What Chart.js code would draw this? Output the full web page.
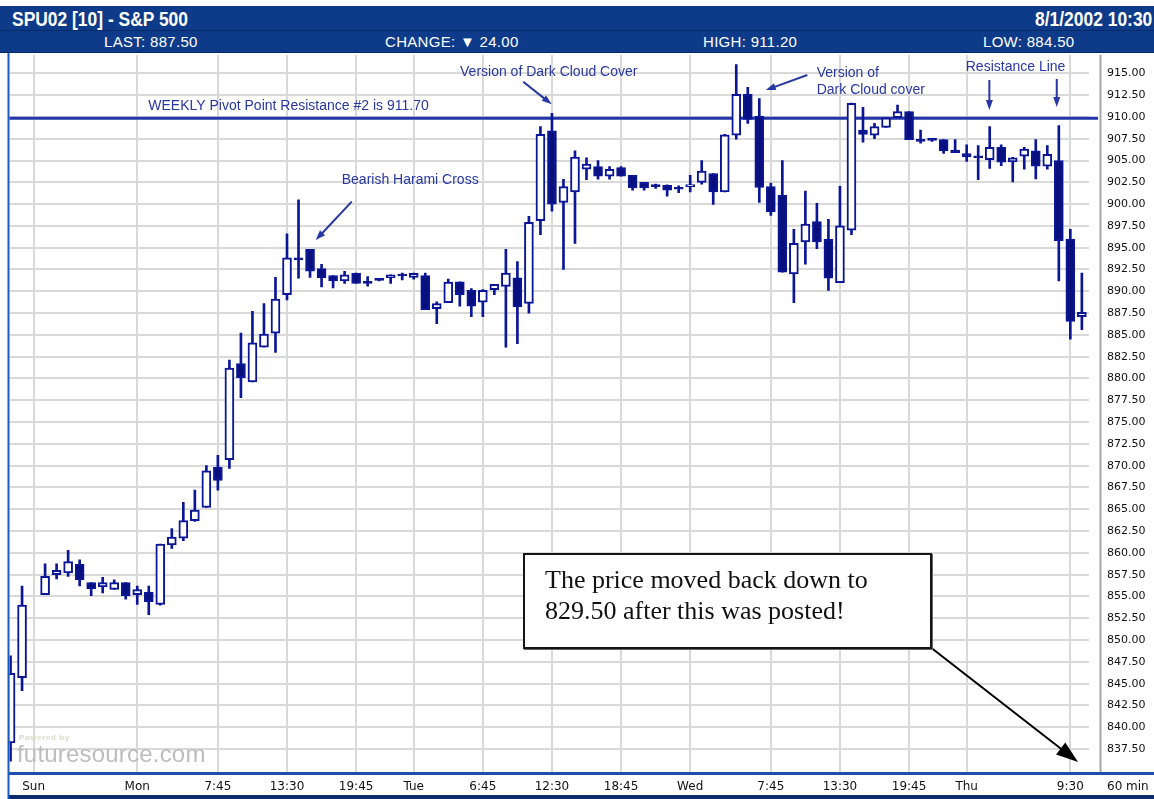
<!DOCTYPE html>
<html><head><meta charset="utf-8">
<script src="https://cdn.jsdelivr.net/npm/chart.js@4.4.1/dist/chart.umd.min.js"></script>
<style>
html,body{margin:0;padding:0;background:#fff;width:1154px;height:799px;overflow:hidden}
#wrap{position:relative;width:1154px;height:799px}
#c{position:absolute;left:0;top:0}
#hdr{position:absolute;left:0;top:6px;width:1154px;height:47px;background:#0d3b8a;color:#fff;font-family:"Liberation Sans Narrow","Arial Narrow","Liberation Sans",sans-serif}
#row1{position:absolute;left:0;top:0;width:1154px;height:24px;border-bottom:1px solid #062a63}
#title{position:absolute;left:12px;top:0;font-weight:bold;font-size:21px;line-height:25px;transform:scaleX(0.83);transform-origin:0 0;white-space:nowrap}
#date{position:absolute;right:2px;top:0;font-weight:bold;font-size:21px;line-height:25px;transform:scaleX(0.83);transform-origin:100% 0;white-space:nowrap}
#row2{position:absolute;left:0;top:25px;width:1154px;height:21px;border-bottom:1px solid #062a63}
#row2 span{position:absolute;top:0;font-size:15px;line-height:21px;letter-spacing:0.3px;white-space:nowrap}
#box{position:absolute;left:523px;top:553px;width:409px;height:96px;box-sizing:border-box;border:2px solid #151515;box-shadow:1px 1px 0 #666;background:#fff;padding:9px 0 0 20px;font-family:"Liberation Serif","Times New Roman",serif;font-size:26px;line-height:31px;color:#111}
#unit{position:absolute;left:1107px;top:779px;font-family:"DejaVu Sans",sans-serif;font-size:12px;color:#111}
#wm1{position:absolute;left:19px;top:733px;font-family:"Liberation Sans",sans-serif;font-size:8px;color:#d6e0c8;font-weight:bold;letter-spacing:0.6px}
#wm2{position:absolute;left:17px;top:740px;font-family:"Liberation Sans",sans-serif;font-size:24px;color:#bdbdbd;letter-spacing:0.2px}
</style></head>
<body><div id="wrap">
<canvas id="c" width="1154" height="799"></canvas>
<div id="hdr">
 <div id="row1"><span id="title">SPU02 [10] - S&amp;P 500</span><span id="date">8/1/2002 10:30</span></div>
 <div id="row2"><span style="left:104px">LAST: 887.50</span><span style="left:385px">CHANGE: ▼ 24.00</span><span style="left:703px">HIGH: 911.20</span><span style="left:983px">LOW: 884.50</span></div>
</div>
<div id="wm1">Powered by</div>
<div id="wm2">futuresource.com</div>
<div id="box">The price moved back down to<br>829.50 after this was posted!</div>
<div id="unit">60 min</div>
</div>
<script>
// ---- data (hourly bars, slot index = position in time) ----
const opens  = [838.2,845.7,null,855.2,857.5,857.7,858.7,856.6,856.1,855.8,856.6,855.2,855.5,854.1,860.9,861.7,863.7,865.2,869.8,870.7,
  881.7,879.6,883.6,885.2,889.6,893.7,894.8,892.6,891.8,891.2,892.1,891.1,891.4,891.55,891.85,891.6,891.8,888.0,888.7,891.1,
  890.1,888.75,890.2,890.55,891.55,888.6,898.1,908.4,900.2,901.4,904.0,904.3,903.2,904.2,903.3,902.5,902.15,902.15,901.9,902.0,
  902.5,903.5,901.4,907.9,912.6,910.1,902.0,901.0,892.0,895.65,898.0,895.95,891.0,897.0,908.5,907.9,908.8,909.9,910.6,907.4,
  907.3,907.4,906.2,905.8,905.4,905.1,906.5,904.85,905.5,906.1,904.35,905.0,896.0,887.1];
const highs  = [848.2,856.2,null,858.75,858.75,860.3,859.2,856.6,857.2,856.9,856.6,856.2,856.2,861.0,862.8,865.8,867.2,870.0,871.2,882.1,
  885.2,887.7,888.6,891.6,896.6,900.5,894.8,893.1,891.8,892.3,892.1,891.7,891.45,891.9,892.1,892.1,892.1,888.8,891.4,891.1,
  890.3,890.2,890.8,894.8,893.4,898.6,908.9,910.4,902.85,906.1,905.3,905.0,904.3,904.3,903.3,902.5,902.3,902.2,902.1,903.3,
  905.0,903.5,908.0,916.0,913.4,912.1,902.4,905.0,897.1,901.5,900.1,898.25,902.05,911.6,911.1,909.25,909.9,911.35,910.6,908.5,
  907.4,907.4,907.4,906.8,906.7,908.9,906.8,905.35,906.5,907.4,906.7,909.0,897.1,892.1];
const lows   = [836.1,844.2,null,855.2,857.0,857.3,856.2,855.1,855.4,855.8,854.7,854.1,852.9,854.0,860.5,861.4,863.6,865.2,867.2,869.7,
  877.8,879.6,883.6,883.0,889.0,891.5,891.6,890.5,890.4,890.9,890.9,890.6,891.2,890.9,891.3,891.4,887.9,886.3,888.7,888.3,
  887.1,887.1,889.6,883.6,884.0,887.5,896.5,899.2,892.5,895.5,902.8,902.85,902.85,903.2,901.6,901.6,901.8,900.9,901.3,901.4,
  902.3,899.95,901.4,907.45,909.25,900.2,898.7,892.2,888.7,893.1,894.9,890.1,891.0,896.5,907.1,907.5,908.8,909.9,907.4,907.0,
  907.2,905.8,905.9,904.9,902.8,904.1,904.4,902.55,904.0,902.9,904.0,891.2,884.5,885.6];
const closes = [846.2,854.0,null,857.3,858.0,859.0,856.9,855.9,856.6,856.6,855.1,855.8,854.4,861.0,861.8,863.7,864.9,869.4,868.3,881.2,
  880.1,884.1,885.1,889.1,893.85,893.6,892.3,891.55,891.2,891.9,890.9,890.9,891.25,891.9,891.75,892.05,887.9,888.6,891.05,889.6,
  888.3,890.1,890.8,892.1,888.2,897.9,908.0,900.0,902.0,905.4,904.6,903.2,904.0,903.2,901.85,901.85,902.0,901.6,901.7,902.2,
  903.8,901.4,907.95,912.6,909.7,901.9,899.1,892.2,895.5,897.7,895.65,891.5,897.5,911.55,908.0,908.9,909.9,910.6,907.4,907.2,
  907.3,906.1,905.9,905.4,905.3,906.5,904.8,905.3,906.3,904.35,905.7,895.8,886.55,887.6];

const timeTickSlots  = [2,11,18,24,30,35,41,47,53,59,66,72,78,83,92];
const timeTickLabels = ['Sun','Mon','7:45','13:30','19:45','Tue','6:45','12:30','18:45','Wed','7:45','13:30','19:45','Thu','9:30'];
const priceTickLow = 837.5, priceTickHigh = 915, priceTickStep = 2.5;
const pivotLineLevel = 909.85;

// annotation anchors in (slot, price)
const noteTexts  = ['WEEKLY Pivot Point Resistance #2 is 911.70','Bearish Harami Cross','Version of Dark Cloud Cover','Version of','Dark Cloud cover','Resistance Line'];
const noteSlots  = [11.96, 28.75, 39.02, 69.98, 69.98, 82.92];
const notePrices = [911.28, 902.76, 915.15, 915.03, 913.08, 915.72];
const arrowFrom  = [[29.62,900.28],[44.51,914.04],[69.17,914.8],[84.97,914.23],[90.82,914.35]];
const arrowTo    = [[26.49,895.88],[46.98,911.44],[65.56,913.08],[84.97,910.79],[90.82,911.14]];
const calloutFrom = [79.97, 849.06], calloutTo = [92.67, 836.02];

// ---- build datasets ----
const UP_FILL = '#ffffff', DOWN_FILL = '#0a0f7e', EDGE = '#0b1696';
const wickData = [], bodyData = [], bodyFill = [];
opens.forEach((o, i) => {
  if (o == null) return;
  const c = closes[i];
  wickData.push({x: i, y: [lows[i], highs[i]]});
  bodyData.push({x: i, y: [Math.min(o, c), Math.max(o, c)]});
  bodyFill.push(c > o ? UP_FILL : DOWN_FILL);
});

function arrow(ctx, x1, y1, x2, y2, color, lw, hl, hw) {
  const a = Math.atan2(y2 - y1, x2 - x1), ca = Math.cos(a), sa = Math.sin(a);
  ctx.save();
  ctx.strokeStyle = color; ctx.fillStyle = color; ctx.lineWidth = lw;
  ctx.beginPath(); ctx.moveTo(x1, y1); ctx.lineTo(x2 - ca * hl * 0.8, y2 - sa * hl * 0.8); ctx.stroke();
  ctx.beginPath(); ctx.moveTo(x2, y2);
  ctx.lineTo(x2 - hl * ca + hw / 2 * sa, y2 - hl * sa - hw / 2 * ca);
  ctx.lineTo(x2 - hl * ca - hw / 2 * sa, y2 - hl * sa + hw / 2 * ca);
  ctx.closePath(); ctx.fill();
  ctx.restore();
}

const decor = {
  id: 'decor',
  beforeDraw(chart) {
    const ctx = chart.ctx;
    ctx.save(); ctx.fillStyle = '#fff'; ctx.fillRect(0, 0, chart.width, chart.height); ctx.restore();
  },
  beforeDatasetsDraw(chart) {
    const {ctx, chartArea, scales: {y}} = chart;
    const py = y.getPixelForValue(pivotLineLevel);
    ctx.save();
    ctx.strokeStyle = '#2436a8'; ctx.lineWidth = 3;
    ctx.beginPath(); ctx.moveTo(chartArea.left, py); ctx.lineTo(1098, py); ctx.stroke();
    ctx.restore();
  },
  afterDraw(chart) {
    const {ctx, chartArea, scales: {x, y}} = chart;
    ctx.save();
    // frame
    ctx.strokeStyle = '#a6a6a6'; ctx.lineWidth = 2;
    ctx.beginPath(); ctx.moveTo(1100.5, chartArea.top); ctx.lineTo(1100.5, chartArea.bottom); ctx.stroke();
    ctx.strokeStyle = '#1e4fa8'; ctx.lineWidth = 3;
    ctx.beginPath(); ctx.moveTo(8, chartArea.bottom + 1.5); ctx.lineTo(1154, chartArea.bottom + 1.5); ctx.stroke();
    ctx.strokeStyle = '#0b2d70'; ctx.lineWidth = 4;
    ctx.beginPath(); ctx.moveTo(8, 797); ctx.lineTo(1154, 797); ctx.stroke();
    ctx.strokeStyle = '#1b58c0'; ctx.lineWidth = 2;
    ctx.beginPath(); ctx.moveTo(8.5, 53); ctx.lineTo(8.5, 799); ctx.stroke();
    // notes
    ctx.fillStyle = '#2737a3';
    ctx.font = '14px "Liberation Sans", Arial, sans-serif';
    ctx.textBaseline = 'middle'; ctx.textAlign = 'left';
    noteTexts.forEach((t, i) => ctx.fillText(t, x.getPixelForValue(noteSlots[i]), y.getPixelForValue(notePrices[i])));
    arrowFrom.forEach((f, i) => arrow(ctx, x.getPixelForValue(f[0]), y.getPixelForValue(f[1]),
      x.getPixelForValue(arrowTo[i][0]), y.getPixelForValue(arrowTo[i][1]), '#2737a3', 2, 10, 7));
    arrow(ctx, x.getPixelForValue(calloutFrom[0]), y.getPixelForValue(calloutFrom[1]),
      x.getPixelForValue(calloutTo[0]), y.getPixelForValue(calloutTo[1]), '#000', 2, 22, 15);
    ctx.restore();
  }
};

new Chart(document.getElementById('c'), {
  type: 'bar',
  data: {
    datasets: [
      {label: 'wick', data: wickData, backgroundColor: EDGE, barThickness: 2, grouped: false, order: 2, borderWidth: 0},
      {label: 'body', data: bodyData, backgroundColor: (c) => bodyFill[c.dataIndex], borderColor: EDGE,
       borderWidth: 2, borderSkipped: false, barThickness: 9, grouped: false, order: 1, minBarLength: 2}
    ]
  },
  options: {
    responsive: false, animation: false, devicePixelRatio: 1,
    layout: {padding: {top: 55, left: 9.5, right: 0, bottom: 0}},
    plugins: {legend: {display: false}, tooltip: {enabled: false}},
    scales: {
      x: {
        type: 'linear', min: -0.09, max: 93.62, offset: false,
        afterBuildTicks: (s) => { s.ticks = timeTickSlots.map(v => ({value: v})); },
        afterFit: (s) => { s.height = 27; },
        ticks: {autoSkip: false, maxRotation: 0, padding: 8, color: '#111',
          font: {family: 'DejaVu Sans', size: 12},
          callback: (v) => { const k = timeTickSlots.indexOf(v); return k >= 0 ? timeTickLabels[k] : ''; }},
        grid: {color: '#d9d9d9', lineWidth: 2, drawTicks: false, offset: false},
        border: {display: false}
      },
      y: {
        type: 'linear', position: 'right', min: 834.87, max: 917.1,
        afterBuildTicks: (s) => { s.ticks = s.ticks.filter(t => t.value >= priceTickLow && t.value <= priceTickHigh); },
        afterFit: (s) => { s.width = 65; },
        ticks: {stepSize: priceTickStep, includeBounds: false, padding: 18, color: '#111',
          font: {family: 'DejaVu Sans', size: 11}, callback: (v) => v.toFixed(2)},
        grid: {color: '#d9d9d9', lineWidth: 2, drawTicks: false},
        border: {display: false}
      }
    }
  },
  plugins: [decor]
});
</script>
</body></html>
